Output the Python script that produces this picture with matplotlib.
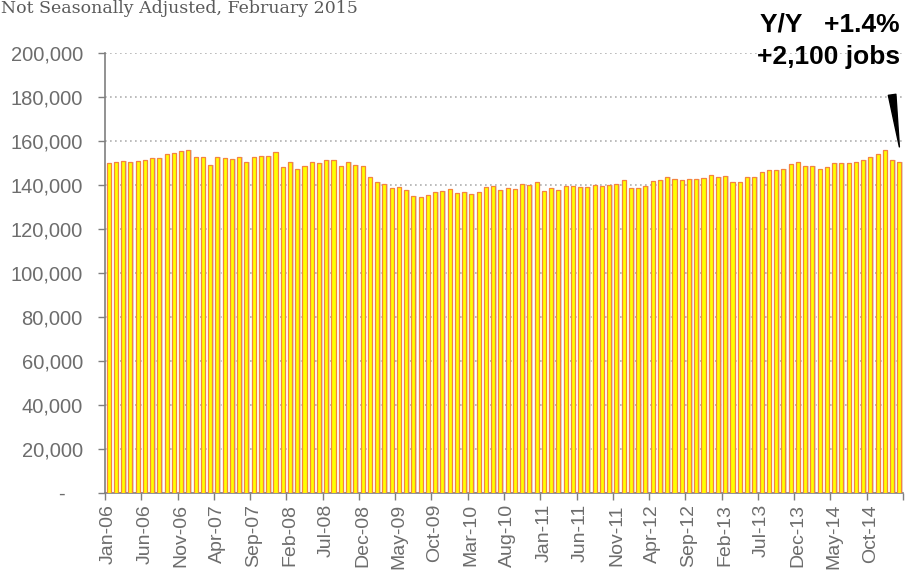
import pandas as pd
import numpy as np
import matplotlib.pyplot as plt

# monthly jobs, not seasonally adjusted, Jan-06 .. Feb-15
jobs_2006 = [149850, 150600, 151060, 150600, 150900, 151500, 152100, 152400, 154240, 154550, 155300, 155900]
jobs_2007 = [152570, 152700, 149240, 152570, 152100, 151800, 152700, 150450, 152700, 153200, 153330, 155000]
jobs_2008 = [148180, 150450, 147200, 148790, 150600, 150150, 151500, 151360, 148790, 150450, 148940, 148640]
jobs_2009 = [143790, 141520, 140610, 138640, 139090, 137580, 135150, 134550, 135610, 136970, 137280, 138340]
jobs_2010 = [136370, 136670, 135760, 136970, 139240, 139700, 137880, 138640, 138340, 140460, 140000, 141520]
jobs_2011 = [137120, 138790, 137730, 139700, 139700, 139090, 139090, 140150, 139400, 139850, 140460, 142270]
jobs_2012 = [138790, 138490, 139550, 141970, 142270, 143640, 142880, 142270, 142880, 142580, 143190, 144550]
jobs_2013 = [143640, 143940, 141210, 141210, 143640, 143640, 145760, 146820, 146670, 147270, 149550, 150450]
jobs_2014 = [148490, 148490, 147270, 148180, 150150, 150150, 149850, 150450, 151360, 152730, 153940, 155910]
jobs_2015 = [151210, 150600]

jobs = (jobs_2006 + jobs_2007 + jobs_2008 + jobs_2009 + jobs_2010 + jobs_2011
        + jobs_2012 + jobs_2013 + jobs_2014 + jobs_2015)
months = pd.date_range("2006-01-01", periods=len(jobs), freq="MS").strftime("%b-%y").tolist()

subtitle = "Not Seasonally Adjusted, February 2015"
note_line1 = "Y/Y   +1.4%"
note_line2 = "+2,100 jobs"

plt.rcParams['font.family'] = ['Liberation Sans', 'DejaVu Sans']
gray = '#7f7f7f'

fig = plt.figure(figsize=(9.05, 5.73), dpi=100)
ax = fig.add_axes([105 / 905, 1 - 493 / 573, 798 / 905, 440 / 573])

x = np.arange(len(jobs))
# soft shadow behind bars
ax.bar(x + 0.14, jobs, width=0.7, color='#ddd6d2', alpha=0.9, zorder=2, linewidth=0)
ax.bar(x, jobs, width=0.56, color='#ffff00', edgecolor='#f5843f', linewidth=0.9, zorder=3)

ax.set_xlim(-0.5, len(jobs) - 0.5)
ax.set_ylim(0, 200000)

yt = np.arange(0, 200001, 20000)
ax.set_yticks(yt)
ax.set_yticklabels(['-   '] + [f"{v:,}" for v in yt[1:]])
ax.yaxis.grid(True, linestyle=(0, (1, 2)), color='#b0b0b0', linewidth=1.2, zorder=0)
ax.set_axisbelow(True)

# labels every 5 months, tick marks on the category boundaries
ax.set_xticks(x[::5])
ax.set_xticklabels(months[::5], rotation=90)
ax.set_xticks(np.arange(-0.5, len(jobs), 5), minor=True)
ax.tick_params(axis='x', which='major', length=0, pad=8, labelsize=14, labelcolor='#6d6d6d')
ax.tick_params(axis='x', which='minor', length=5, color=gray, width=1)
ax.tick_params(axis='y', length=5, color=gray, width=1, labelsize=14.5, labelcolor='#6d6d6d', pad=11)

for s in ['top', 'right']:
    ax.spines[s].set_visible(False)
for s in ['left', 'bottom']:
    ax.spines[s].set_color(gray)
    ax.spines[s].set_linewidth(1.2)

fig.text(1 / 905, 1 - 13 / 573, subtitle, ha='left', va='baseline',
         family='DejaVu Serif', fontsize=12.5, color='#5a5a5a')

fig.text(900 / 905, 1 - 31.5 / 573, note_line1, ha='right', va='baseline', fontsize=19,
         fontweight='bold', color='black')
fig.text(900 / 905, 1 - 64 / 573, note_line2, ha='right', va='baseline', fontsize=19,
         fontweight='bold', color='black')

# pointer to the latest month
ax.annotate('', xy=(x[-1], 157300), xytext=(x[-1] - 1.0, 181000),
            arrowprops=dict(arrowstyle='wedge,tail_width=0.55,shrink_factor=0.5',
                            fc='black', ec='black', shrinkA=0, shrinkB=0))

fig.savefig("out.png", dpi=100)
